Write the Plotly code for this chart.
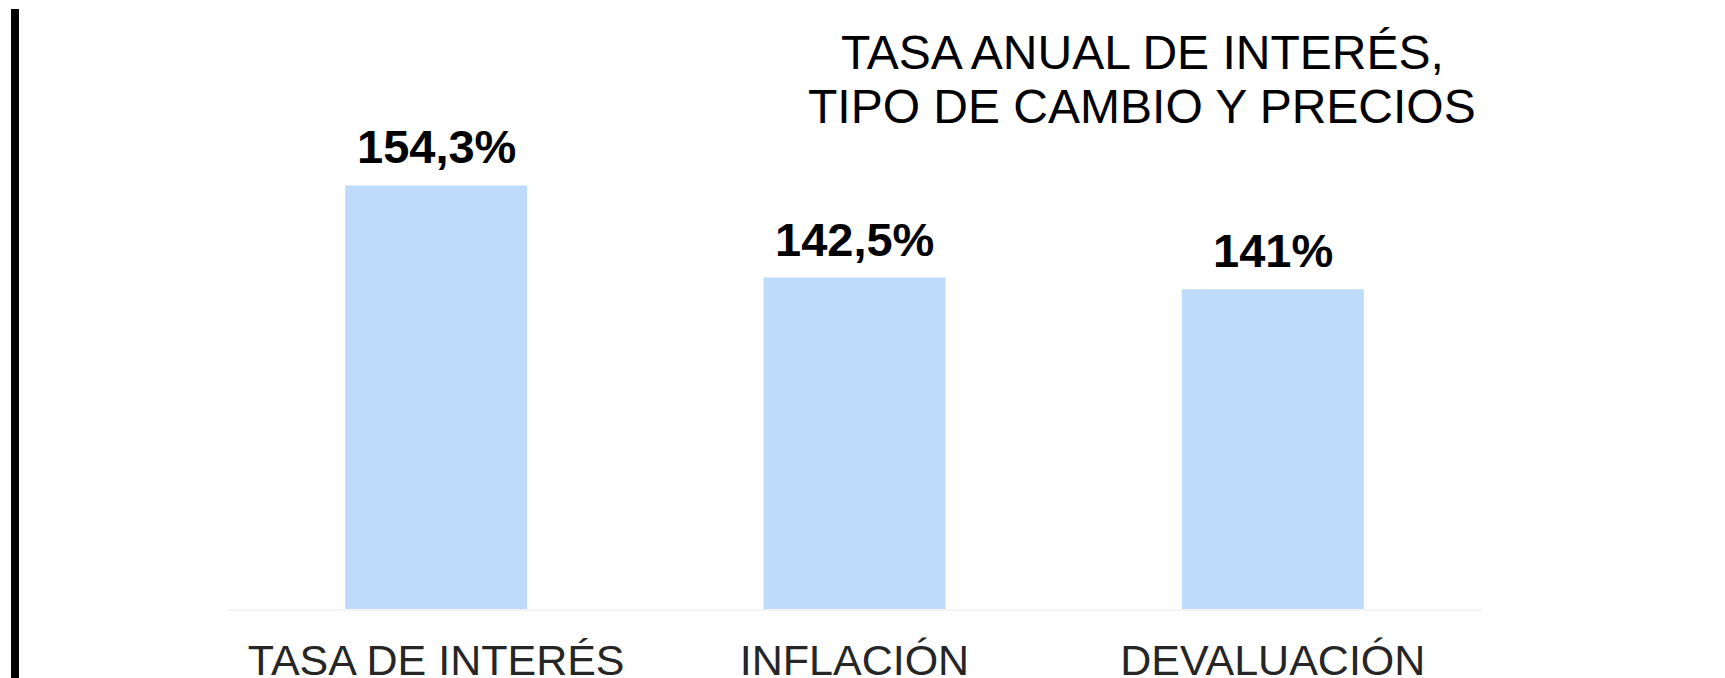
import plotly.graph_objects as go

categories = ["TASA DE INTERÉS", "INFLACIÓN", "DEVALUACIÓN"]
values = [154.3, 142.5, 141.0]
title_lines = ["TASA ANUAL DE INTERÉS,", "TIPO DE CAMBIO Y PRECIOS"]


def fmt(v):
    s = f"{v:g}".replace(".", ",")
    return s + "%"


labels = [fmt(v) for v in values]

# page body has an 8px margin; figure coords = screen coords - 8
OFF = 8
W, H = 1725, 678
ML, MR, MT, MB = 227 - OFF, 251, 63 - OFF, 77
plot_h = H - MT - MB
plot_w = W - ML - MR


def py(p):
    # screen pixel y -> paper y
    return (H - MB - (p - OFF)) / plot_h


def px(p):
    return ((p - OFF) - ML) / plot_w


FONT = "Liberation Sans, Arial, sans-serif"

fig = go.Figure()
fig.add_trace(go.Bar(
    x=categories,
    y=values,
    marker=dict(color="#BEDBFC", line=dict(width=0)),
    textposition="none",
    hoverinfo="skip",
))

for c, v, t in zip(categories, values, labels):
    fig.add_annotation(
        x=c, y=v, text=t, xref="x", yref="y",
        xanchor="center", yanchor="bottom", yshift=10,
        showarrow=False,
        font=dict(family=FONT, size=47, color="#000000", weight="bold"),
    )

fig.update_layout(
    width=W, height=H,
    margin=dict(l=ML, r=MR, t=MT, b=MB, pad=0, autoexpand=False),
    paper_bgcolor="white",
    plot_bgcolor="white",
    showlegend=False,
    bargap=0.565,
    font=dict(family=FONT),
    xaxis=dict(
        showgrid=False, zeroline=False, automargin=False,
        showline=True, linecolor="#F3F3F3", linewidth=2,
        ticks="", ticklabelstandoff=12,
        tickfont=dict(family=FONT, size=43, color="#262626"),
    ),
    yaxis=dict(
        range=[100, 170], visible=False, showgrid=False, zeroline=False,
        automargin=False,
    ),
    shapes=[dict(
        type="line", xref="paper", yref="paper",
        x0=px(15), x1=px(15), y0=py(9), y1=py(H + 20),
        line=dict(color="black", width=8),
    )],
)

for line, ypix in zip(title_lines, [52, 106]):
    fig.add_annotation(
        text=line, xref="paper", yref="paper",
        x=px(1142), y=py(ypix), xanchor="center", yanchor="middle",
        showarrow=False,
        font=dict(family=FONT, size=48, color="#000000"),
    )

fig.write_html("out.html")
